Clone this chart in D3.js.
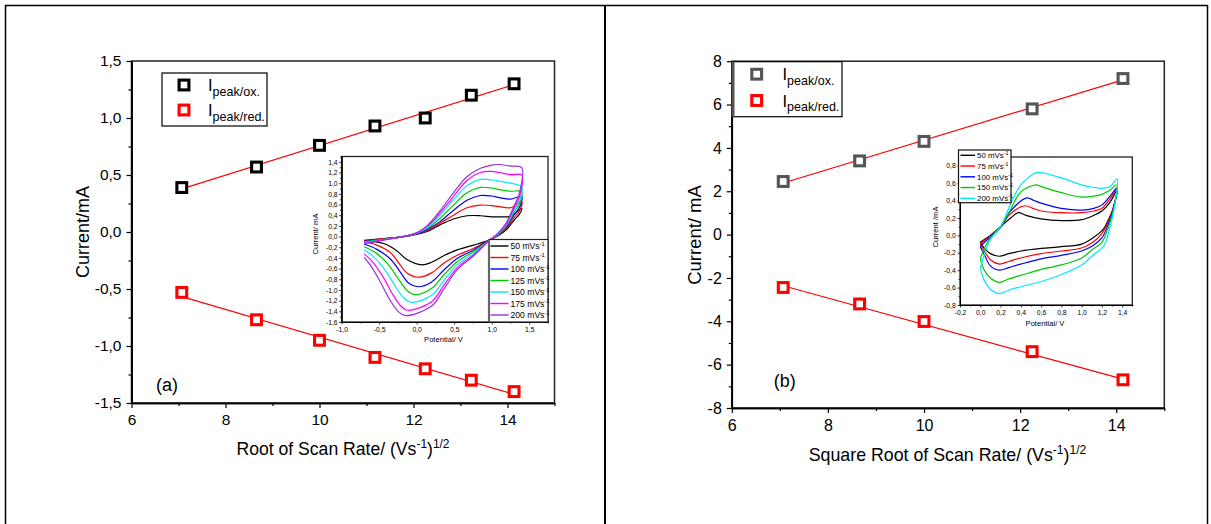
<!DOCTYPE html>
<html><head><meta charset="utf-8">
<script src="https://cdn.jsdelivr.net/npm/d3@7"></script>
<style>
body{margin:0;background:#fff}
svg{display:block}
text{font-family:"Liberation Sans",Arial,Helvetica,sans-serif}
</style>
</head><body>
<svg id="c" width="1211" height="524"></svg>
<script>
// ---------------- DATA ----------------
// Panel (a) main
const sqrtRateA = [7.07, 8.66, 10.0, 11.18, 12.25, 13.23, 14.14];
const ipOxA  = [0.39, 0.57, 0.76, 0.93, 1.00, 1.20, 1.30];
const ipRedA = [-0.53, -0.77, -0.95, -1.10, -1.20, -1.30, -1.40];
const fitXA = [7.07, 14.14];
const fitOxA = [0.378, 1.294];
const fitRedA = [-0.567, -1.425];
const xTicksA = [6, 8, 10, 12, 14];
const xMinorA = [7, 9, 11, 13, 15];
const yTicksA = [-1.5, -1.0, -0.5, 0.0, 0.5, 1.0, 1.5];
const yMinorA = [-1.25, -0.75, -0.25, 0.25, 0.75, 1.25];

// Panel (b) main
const sqrtRateB = [7.07, 8.66, 10.0, 12.25, 14.14];
const ipOxB  = [2.45, 3.40, 4.30, 5.80, 7.20];
const ipRedB = [-2.44, -3.20, -4.01, -5.40, -6.70];
const fitXB = [7.07, 14.14];
const fitOxB = [2.38, 7.14];
const fitRedB = [-2.36, -6.67];
const xTicksB = [6, 8, 10, 12, 14];
const xMinorB = [7, 9, 11, 13, 15];
const yTicksB = [-8, -6, -4, -2, 0, 2, 4, 6, 8];
const yMinorB = [-7, -5, -3, -1, 1, 3, 5, 7];

// Inset (a) cyclic voltammograms [potential V, current mA]
const scanRatesA = [50, 75, 100, 125, 150, 175, 200];
const cvA50 = [[-0.70,-0.07],[-0.45,-0.04],[-0.2,-0.005],[0.0,0.04],[0.15,0.10],[0.31,0.22],[0.49,0.33],[0.67,0.39],[0.85,0.39],[1.0,0.37],[1.1,0.37],[1.25,0.38],[1.4,0.53],
  [1.37,0.42],[1.3,0.31],[1.19,0.12],[1.08,0.01],[0.96,-0.07],[0.76,-0.16],[0.54,-0.25],[0.36,-0.36],[0.2,-0.48],[0.07,-0.53],[-0.13,-0.43],[-0.27,-0.26],[-0.44,-0.13],[-0.7,-0.08]];
const cvA75 = [[-0.70,-0.08],[-0.45,-0.04],[-0.2,-0.005],[0.0,0.05],[0.15,0.12],[0.31,0.25],[0.49,0.40],[0.67,0.54],[0.85,0.59],[1.0,0.58],[1.1,0.56],[1.25,0.54],[1.4,0.65],
  [1.37,0.48],[1.3,0.36],[1.19,0.15],[1.08,0.02],[0.96,-0.07],[0.76,-0.22],[0.54,-0.35],[0.36,-0.50],[0.2,-0.68],[0.03,-0.76],[-0.13,-0.68],[-0.22,-0.53],[-0.35,-0.30],[-0.53,-0.16],[-0.7,-0.10]];
const cvA100 = [[-0.70,-0.09],[-0.45,-0.05],[-0.2,-0.005],[0.0,0.05],[0.15,0.14],[0.31,0.28],[0.49,0.49],[0.67,0.68],[0.85,0.77],[1.0,0.76],[1.1,0.73],[1.25,0.70],[1.4,0.75],
  [1.37,0.55],[1.3,0.41],[1.19,0.17],[1.08,0.03],[0.96,-0.07],[0.76,-0.25],[0.54,-0.41],[0.36,-0.63],[0.2,-0.85],[0.02,-0.94],[-0.1,-0.88],[-0.22,-0.66],[-0.35,-0.42],[-0.53,-0.24],[-0.7,-0.14]];
const cvA125 = [[-0.70,-0.10],[-0.45,-0.05],[-0.2,-0.005],[0.0,0.06],[0.15,0.16],[0.31,0.34],[0.49,0.59],[0.67,0.82],[0.85,0.92],[1.0,0.91],[1.1,0.88],[1.25,0.85],[1.4,0.84],
  [1.37,0.62],[1.3,0.46],[1.19,0.19],[1.08,0.04],[0.96,-0.08],[0.76,-0.28],[0.54,-0.47],[0.36,-0.72],[0.2,-0.97],[-0.02,-1.09],[-0.12,-1.02],[-0.24,-0.80],[-0.38,-0.52],[-0.55,-0.30],[-0.7,-0.19]];
const cvA150 = [[-0.70,-0.11],[-0.45,-0.06],[-0.2,-0.005],[0.0,0.06],[0.15,0.18],[0.31,0.40],[0.49,0.69],[0.67,0.95],[0.85,1.07],[1.0,1.06],[1.1,1.04],[1.25,1.00],[1.4,0.93],
  [1.37,0.68],[1.3,0.50],[1.19,0.21],[1.08,0.04],[0.96,-0.08],[0.76,-0.31],[0.54,-0.53],[0.36,-0.83],[0.2,-1.10],[-0.07,-1.23],[-0.17,-1.15],[-0.28,-0.94],[-0.42,-0.63],[-0.57,-0.38],[-0.7,-0.25]];
const cvA175 = [[-0.70,-0.12],[-0.45,-0.06],[-0.2,-0.005],[0.0,0.07],[0.15,0.20],[0.31,0.44],[0.49,0.75],[0.67,1.05],[0.85,1.20],[1.0,1.22],[1.1,1.20],[1.25,1.16],[1.4,1.15],
  [1.37,0.75],[1.3,0.54],[1.19,0.23],[1.08,0.05],[0.96,-0.08],[0.76,-0.34],[0.54,-0.58],[0.36,-0.92],[0.2,-1.22],[-0.12,-1.38],[-0.21,-1.30],[-0.32,-1.08],[-0.45,-0.75],[-0.59,-0.47],[-0.7,-0.32]];
const cvA200 = [[-0.70,-0.13],[-0.45,-0.07],[-0.2,-0.005],[0.0,0.07],[0.15,0.22],[0.31,0.48],[0.49,0.82],[0.67,1.12],[0.85,1.28],[1.0,1.34],[1.1,1.35],[1.25,1.32],[1.4,1.29],
  [1.37,0.82],[1.3,0.58],[1.19,0.25],[1.08,0.06],[0.96,-0.08],[0.76,-0.36],[0.54,-0.62],[0.36,-0.99],[0.2,-1.30],[-0.15,-1.48],[-0.24,-1.41],[-0.35,-1.20],[-0.48,-0.86],[-0.61,-0.55],[-0.7,-0.39]];
const cvCurvesA = [cvA50, cvA75, cvA100, cvA125, cvA150, cvA175, cvA200];
const inXTicksA = [-1.0, -0.5, 0.0, 0.5, 1.0, 1.5];
const inXMinorA = [-0.75, -0.25, 0.25, 0.75, 1.25, 1.75];
const inYTicksA = [-1.6,-1.4,-1.2,-1.0,-0.8,-0.6,-0.4,-0.2,0.0,0.2,0.4,0.6,0.8,1.0,1.2,1.4];
const inYMinorA = [-1.5,-1.3,-1.1,-0.9,-0.7,-0.5,-0.3,-0.1,0.1,0.3,0.5,0.7,0.9,1.1,1.3,1.5];

// Inset (b) cyclic voltammograms
const scanRatesB = [50, 75, 100, 150, 200];
const cvB50 = [[0.0,-0.08],[0.05,-0.04],[0.1,0.0],[0.2,0.10],[0.3,0.20],[0.375,0.26],[0.45,0.23],[0.6,0.19],[0.8,0.17],[1.0,0.18],[1.12,0.23],[1.2,0.28],[1.28,0.38],[1.35,0.52],
  [1.31,0.30],[1.26,0.17],[1.21,0.065],[1.11,-0.03],[1.0,-0.10],[0.8,-0.13],[0.6,-0.15],[0.4,-0.18],[0.28,-0.21],[0.19,-0.24],[0.1,-0.21],[0.04,-0.15],[0.0,-0.08]];
const cvB75 = [[0.0,-0.10],[0.05,-0.05],[0.1,-0.01],[0.2,0.10],[0.3,0.25],[0.44,0.34],[0.52,0.31],[0.6,0.28],[0.8,0.26],[1.0,0.26],[1.12,0.28],[1.2,0.31],[1.28,0.42],[1.35,0.54],
  [1.31,0.31],[1.26,0.15],[1.2,0.02],[1.11,-0.08],[1.0,-0.145],[0.8,-0.18],[0.6,-0.21],[0.4,-0.26],[0.28,-0.30],[0.19,-0.33],[0.1,-0.28],[0.04,-0.18],[0.0,-0.10]];
const cvB100 = [[0.0,-0.13],[0.05,-0.07],[0.1,-0.02],[0.2,0.09],[0.3,0.28],[0.46,0.43],[0.53,0.40],[0.6,0.37],[0.8,0.31],[1.0,0.29],[1.12,0.31],[1.2,0.35],[1.28,0.45],[1.35,0.55],
  [1.31,0.30],[1.26,0.12],[1.2,-0.03],[1.11,-0.12],[1.0,-0.18],[0.8,-0.23],[0.6,-0.27],[0.4,-0.33],[0.28,-0.37],[0.19,-0.40],[0.1,-0.35],[0.04,-0.22],[0.0,-0.13]];
const cvB150 = [[0.0,-0.27],[0.04,-0.15],[0.1,-0.03],[0.2,0.10],[0.3,0.30],[0.4,0.50],[0.55,0.58],[0.6,0.56],[0.8,0.49],[1.0,0.44],[1.12,0.45],[1.2,0.47],[1.28,0.52],[1.35,0.58],
  [1.32,0.32],[1.26,0.08],[1.2,-0.08],[1.11,-0.16],[1.0,-0.26],[0.8,-0.34],[0.6,-0.39],[0.4,-0.46],[0.28,-0.50],[0.19,-0.54],[0.1,-0.49],[0.04,-0.40],[0.0,-0.27]];
const cvB200 = [[0.0,-0.38],[0.04,-0.22],[0.1,-0.05],[0.2,0.10],[0.3,0.36],[0.4,0.58],[0.55,0.72],[0.6,0.72],[0.8,0.66],[1.0,0.58],[1.12,0.55],[1.2,0.54],[1.28,0.56],[1.35,0.65],
  [1.32,0.30],[1.27,0.05],[1.22,-0.12],[1.12,-0.22],[1.0,-0.34],[0.8,-0.45],[0.6,-0.53],[0.4,-0.59],[0.28,-0.63],[0.19,-0.67],[0.1,-0.62],[0.04,-0.52],[0.0,-0.38]];
const cvCurvesB = [cvB50, cvB75, cvB100, cvB150, cvB200];
const inXTicksB = [-0.2, 0.0, 0.2, 0.4, 0.6, 0.8, 1.0, 1.2, 1.4];
const inXMinorB = [-0.1, 0.1, 0.3, 0.5, 0.7, 0.9, 1.1, 1.3, 1.5];
const inYTicksB = [-0.8, -0.6, -0.4, -0.2, 0.0, 0.2, 0.4, 0.6, 0.8];
const inYMinorB = [-0.7, -0.5, -0.3, -0.1, 0.1, 0.3, 0.5, 0.7];

// ---------------- STYLE ----------------
const colorsA = ["#000000", "#ff0000", "#0000ff", "#00c800", "#00e8ff", "#ff00ff", "#9b2ee0"];
const colorsB = ["#000000", "#ff0000", "#0000ff", "#00c800", "#00e8ff"];
const RED = "#ff0000";

const svg = d3.select("#c");
const comma = v => d3.format(".1f")(v).replace(".", ",").replace("\u2212", "-");
const intf = v => d3.format("d")(v).replace("\u2212", "-");

// outer table frame
svg.append("line").attr("x1", 5).attr("x2", 1208).attr("y1", 5.5).attr("y2", 5.5).attr("stroke", "#000").attr("stroke-width", 1.5);
svg.append("line").attr("x1", 5.5).attr("x2", 5.5).attr("y1", 5).attr("y2", 524).attr("stroke", "#000").attr("stroke-width", 1.5);
svg.append("line").attr("x1", 605).attr("x2", 605).attr("y1", 5).attr("y2", 524).attr("stroke", "#000").attr("stroke-width", 2);
svg.append("line").attr("x1", 1207.5).attr("x2", 1207.5).attr("y1", 5).attr("y2", 524).attr("stroke", "#000").attr("stroke-width", 1.5);

function drawAxes(g, x, y, o) {
  const [x0, x1] = x.range();
  const [y0, y1] = y.range();
  g.append("rect").attr("x", x0).attr("y", y1).attr("width", x1 - x0).attr("height", y0 - y1)
    .attr("fill", "none").attr("stroke", o.frameColor).attr("stroke-width", o.frameW);
  const mk = (gen, vals, fmt, len, pad, tr) => {
    const a = g.append("g").attr("transform", tr)
      .call(gen.tickValues(vals).tickFormat(fmt).tickSize(len).tickPadding(pad).tickSizeOuter(0));
    a.attr("font-family", null).attr("font-size", o.fs);
    a.selectAll("text").attr("fill", "#000").style("font-family", '"Liberation Sans",Arial,sans-serif').style("font-size", o.fs + "px");
    a.selectAll("line").attr("stroke", "#000").attr("stroke-width", o.tickW);
    a.select(".domain").attr("stroke", "#000").attr("stroke-width", o.axisW);
    return a;
  };
  mk(d3.axisBottom(x), o.xMajor, o.xFmt, o.major, o.xPad, `translate(0,${y0})`);
  mk(d3.axisBottom(x), o.xMinor, () => "", o.minor, 0, `translate(0,${y0})`);
  mk(d3.axisLeft(y), o.yMajor, o.yFmt, o.major, o.yPad, `translate(${x0},0)`);
  mk(d3.axisLeft(y), o.yMinor, () => "", o.minor, 0, `translate(${x0},0)`);
}

function supText(g, x, y, parts, fs, anchor, rotate) {
  const t = g.append("text").attr("text-anchor", anchor || "start").attr("fill", "#000")
    .attr("transform", `translate(${x},${y})` + (rotate ? ` rotate(${rotate})` : ""))
    .style("font-size", fs + "px");
  let cur = 0;
  parts.forEach(p => {
    const shift = p.sup ? -fs * 0.38 : (p.sub ? fs * 0.28 : 0);
    const sz = (p.sup || p.sub) ? fs * (p.scale || 0.68) : fs;
    t.append("tspan").attr("dy", shift - cur).style("font-size", sz + "px").text(p.t);
    cur = shift;
  });
  return t;
}

function markers(g, xs, ys, x, y, color) {
  g.selectAll(null).data(xs.map((d, i) => [d, ys[i]])).enter().append("rect")
    .attr("x", d => x(d[0]) - 4.9).attr("y", d => y(d[1]) - 4.9)
    .attr("width", 9.8).attr("height", 9.8)
    .attr("fill", "#fff").attr("stroke", color).attr("stroke-width", 3.1);
}

function fitLine(g, xs, ys, x, y) {
  g.append("path").datum(xs.map((d, i) => [d, ys[i]]))
    .attr("d", d3.line().x(d => x(d[0])).y(d => y(d[1])))
    .attr("fill", "none").attr("stroke", RED).attr("stroke-width", 1.2);
}

function legendMain(g, bx, by, bw, bh, mx, my1, my2, tx, oxColor, thickLeft) {
  g.append("rect").attr("x", bx).attr("y", by).attr("width", bw).attr("height", bh)
    .attr("fill", "#fff").attr("stroke", "#000").attr("stroke-width", 1.2);
  if (thickLeft) g.append("line").attr("x1", bx).attr("x2", bx).attr("y1", by).attr("y2", by + bh)
    .attr("stroke", "#555").attr("stroke-width", 3);
  [[my1, oxColor, "peak/ox."], [my2, RED, "peak/red."]].forEach(([my, c, s]) => {
    g.append("rect").attr("x", mx - 4.9).attr("y", my - 4.9).attr("width", 9.8).attr("height", 9.8)
      .attr("fill", "#fff").attr("stroke", c).attr("stroke-width", 3.1);
    supText(g, tx, my + 6, [{t: "I"}, {t: s, sub: true, scale: 0.76}], 16.5, "start");
  });
}

// ---------------- PANEL A ----------------
const gA = svg.append("g");
const xA = d3.scaleLinear().domain([6, 15]).range([131.5, 554.5]);
const yA = d3.scaleLinear().domain([-1.5, 1.5]).range([403, 61]);
drawAxes(gA, xA, yA, {xMajor: xTicksA, xMinor: xMinorA, yMajor: yTicksA, yMinor: yMinorA,
  xFmt: d => String(d), yFmt: comma, fs: 15.5, major: 5, minor: 3, xPad: 6, yPad: 5,
  frameColor: "#222", frameW: 1.5, tickW: 1.2, axisW: 1.5});
fitLine(gA, fitXA, fitOxA, xA, yA);
fitLine(gA, fitXA, fitRedA, xA, yA);
markers(gA, sqrtRateA, ipOxA, xA, yA, "#000");
markers(gA, sqrtRateA, ipRedA, xA, yA, RED);
legendMain(gA, 162, 73, 105, 53, 184, 85, 110, 208, "#000", false);
gA.append("text").attr("x", 167).attr("y", 391).attr("text-anchor", "middle").style("font-size", "18px").text("(a)");
supText(gA, 88.5, 232, [{t: "Current/mA"}], 18, "middle", -90);
supText(gA, 343, 455, [{t: "Root of Scan Rate/ (Vs"}, {t: "-1", sup: true}, {t: ")"}, {t: "1/2", sup: true}], 17.6, "middle");

// inset A
const iA = gA.append("g");
const ixA = d3.scaleLinear().domain([-1.0, 1.75]).range([341.6, 548]);
const iyA = d3.scaleLinear().domain([-1.6, 1.5]).range([322, 156.5]);
iA.append("rect").attr("x", 341.6).attr("y", 156.5).attr("width", 206.4).attr("height", 165.5).attr("fill", "#fff");
drawAxes(iA, ixA, iyA, {xMajor: inXTicksA, xMinor: inXMinorA, yMajor: inYTicksA, yMinor: inYMinorA,
  xFmt: comma, yFmt: comma, fs: 6.8, major: 2.5, minor: 1.5, xPad: 2.5, yPad: 1.5,
  frameColor: "#222", frameW: 1.3, tickW: 0.8, axisW: 1});
const lineA = d3.line().x(d => ixA(d[0])).y(d => iyA(d[1])).curve(d3.curveCatmullRom.alpha(0.5));
cvCurvesA.forEach((c, i) => {
  iA.append("path").datum(c).attr("d", lineA).attr("fill", "none").attr("stroke", colorsA[i]).attr("stroke-width", 1.2);
});
// inset A legend
iA.append("rect").attr("x", 489).attr("y", 239.5).attr("width", 59).attr("height", 82.5).attr("fill", "#fff").attr("stroke", "#222").attr("stroke-width", 1.2);
iA.append("line").attr("x1", 489).attr("x2", 489).attr("y1", 239.5).attr("y2", 322).attr("stroke", "#666").attr("stroke-width", 2.2);
scanRatesA.forEach((r, i) => {
  const ly = 246 + i * 11.5;
  iA.append("line").attr("x1", 490.5).attr("x2", 508.5).attr("y1", ly).attr("y2", ly).attr("stroke", colorsA[i]).attr("stroke-width", 1.4);
  supText(iA, 510.5, ly + 3, [{t: r + " mVs"}, {t: "-1", sup: true}], 8.6, "start");
});
supText(iA, 318, 234, [{t: "Current/ mA"}], 7.6, "middle", -90);
supText(iA, 443.5, 342, [{t: "Potential/ V"}], 7.6, "middle");

// ---------------- PANEL B ----------------
const gB = svg.append("g");
const xB = d3.scaleLinear().domain([6, 15]).range([731.8, 1164.3]);
const yB = d3.scaleLinear().domain([-8, 8]).range([408, 61.2]);
drawAxes(gB, xB, yB, {xMajor: xTicksB, xMinor: xMinorB, yMajor: yTicksB, yMinor: yMinorB,
  xFmt: d => String(d), yFmt: intf, fs: 16, major: 5, minor: 3, xPad: 7, yPad: 5,
  frameColor: "#222", frameW: 1.5, tickW: 1.2, axisW: 1.5});
fitLine(gB, fitXB, fitOxB, xB, yB);
fitLine(gB, fitXB, fitRedB, xB, yB);
markers(gB, sqrtRateB, ipOxB, xB, yB, "#555");
markers(gB, sqrtRateB, ipRedB, xB, yB, RED);
legendMain(gB, 733, 61.7, 109, 55, 756.7, 74.2, 100.5, 782.5, "#555", true);
gB.append("text").attr("x", 784.7).attr("y", 387).attr("text-anchor", "middle").style("font-size", "18px").text("(b)");
supText(gB, 700.5, 235, [{t: "Current/ mA"}], 18.5, "middle", -90);
supText(gB, 947.5, 461, [{t: "Square Root of Scan Rate/ (Vs"}, {t: "-1", sup: true}, {t: ")"}, {t: "1/2", sup: true}], 17.8, "middle");

// inset B
const iB = gB.append("g");
const ixB = d3.scaleLinear().domain([-0.2, 1.5]).range([960, 1132.3]);
const iyB = d3.scaleLinear().domain([-0.8, 0.9]).range([305, 157]);
iB.append("rect").attr("x", 960).attr("y", 157).attr("width", 172.3).attr("height", 148).attr("fill", "#fff");
drawAxes(iB, ixB, iyB, {xMajor: inXTicksB, xMinor: inXMinorB, yMajor: inYTicksB, yMinor: inYMinorB,
  xFmt: comma, yFmt: comma, fs: 6.8, major: 2.5, minor: 1.5, xPad: 2.5, yPad: 1.8,
  frameColor: "#222", frameW: 1.3, tickW: 0.8, axisW: 1});
const lineB = d3.line().x(d => ixB(d[0])).y(d => iyB(d[1])).curve(d3.curveCatmullRom.alpha(0.5));
cvCurvesB.forEach((c, i) => {
  iB.append("path").datum(c).attr("d", lineB).attr("fill", "none").attr("stroke", colorsB[i]).attr("stroke-width", 1.2);
});
iB.append("rect").attr("x", 958.5).attr("y", 150).attr("width", 52.5).attr("height", 52.7).attr("fill", "#fff").attr("stroke", "#111").attr("stroke-width", 1.2);
scanRatesB.forEach((r, i) => {
  const ly = 155.3 + i * 10.75;
  iB.append("line").attr("x1", 960.5).attr("x2", 975).attr("y1", ly).attr("y2", ly).attr("stroke", colorsB[i]).attr("stroke-width", 1.4);
  supText(iB, 977, ly + 2.8, [{t: r + " mVs"}, {t: "-1", sup: true}], 7.9, "start");
});
supText(iB, 938, 227, [{t: "Current /mA"}], 7.6, "middle", -90);
supText(iB, 1045, 326, [{t: "Potential/ V"}], 7.6, "middle");
</script>
</body></html>
